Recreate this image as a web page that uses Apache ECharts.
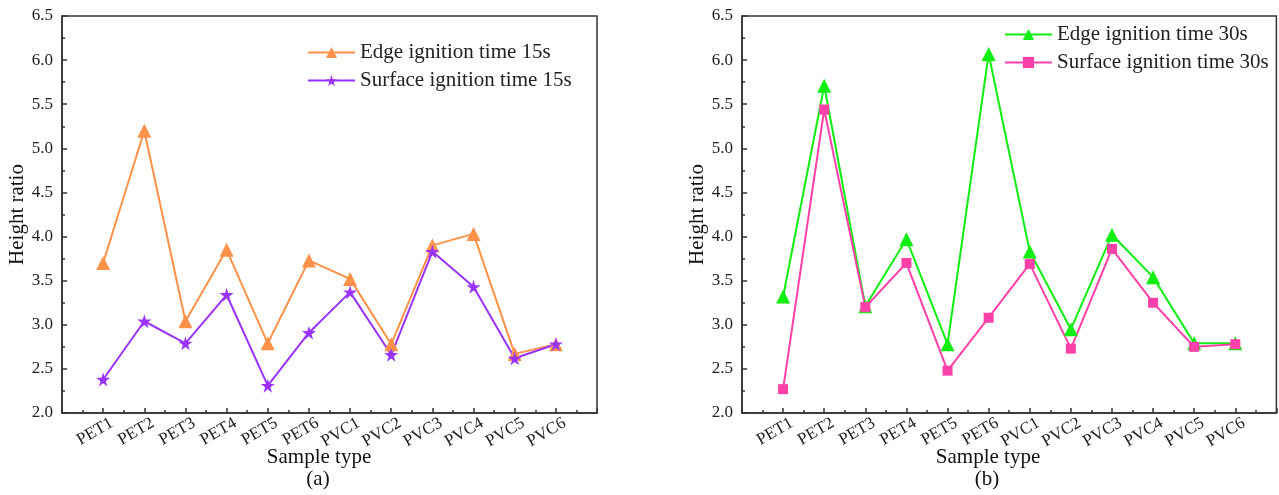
<!DOCTYPE html>
<html>
<head>
<meta charset="utf-8">
<script src="https://cdn.jsdelivr.net/npm/echarts@6/dist/echarts.min.js"></script>
<style>
  html, body { margin: 0; padding: 0; background: #fff; }
  #chart { width: 1279px; height: 495px; }
</style>
</head>
<body>
<div id="chart"></div>
<script>
const samples = ['PET1', 'PET2', 'PET3', 'PET4', 'PET5', 'PET6', 'PVC1', 'PVC2', 'PVC3', 'PVC4', 'PVC5', 'PVC6'];

const edge15 = [3.70, 5.20, 3.04, 3.85, 2.79, 3.73, 3.52, 2.78, 3.90, 4.03, 2.67, 2.78];
const surface15 = [2.38, 3.04, 2.79, 3.34, 2.31, 2.91, 3.37, 2.66, 3.83, 3.43, 2.62, 2.78];
const edge30 = [3.32, 5.71, 3.21, 3.97, 2.78, 6.07, 3.83, 2.95, 4.02, 3.54, 2.79, 2.79];
const surface30 = [2.27, 5.44, 3.20, 3.70, 2.48, 3.08, 3.69, 2.73, 3.86, 3.25, 2.75, 2.78];

const FONT = 'Liberation Serif';
const AXIS_COLOR = '#333';

const toPoints = arr => arr.map((v, i) => [i + 1, v]);

const makeX = idx => ({
  type: 'value',
  gridIndex: idx,
  min: 0,
  max: 13,
  interval: 1,
  axisLine: { show: true, lineStyle: { color: AXIS_COLOR, width: 1.5 } },
  axisTick: { show: true, inside: true, length: 5, lineStyle: { color: AXIS_COLOR, width: 1.5 } },
  minorTick: { show: true, splitNumber: 2, length: 3, lineStyle: { color: AXIS_COLOR, width: 1.5 } },
  splitLine: { show: false },
  axisLabel: {
    rotate: 30,
    margin: 14,
    padding: [0, -10, 0, 0],
    color: '#222',
    fontFamily: FONT,
    fontSize: 17,
    formatter: v => (v >= 1 && v <= samples.length ? samples[v - 1] : '')
  }
});

const makeY = idx => ({
  type: 'value',
  gridIndex: idx,
  min: 2,
  max: 6.5,
  interval: 0.5,
  name: 'Height ratio',
  nameLocation: 'middle',
  nameGap: 32,
  nameTextStyle: { fontFamily: FONT, fontSize: 21, color: '#111' },
  axisLine: { show: true, lineStyle: { color: AXIS_COLOR, width: 1.5 } },
  axisTick: { show: true, inside: true, length: 5, lineStyle: { color: AXIS_COLOR, width: 1.5 } },
  minorTick: { show: true, splitNumber: 2, length: 3, lineStyle: { color: AXIS_COLOR, width: 1.5 } },
  splitLine: { show: false },
  axisLabel: {
    margin: 9,
    color: '#222',
    fontFamily: FONT,
    fontSize: 17,
    formatter: v => v.toFixed(1)
  }
});

const makeLine = (name, data, idx, color, symbol, size) => ({
  name,
  type: 'line',
  xAxisIndex: idx,
  yAxisIndex: idx,
  data: toPoints(data),
  symbol,
  symbolSize: size,
  showAllSymbol: true,
  lineStyle: { color, width: 2 },
  itemStyle: { color },
  z: 3
});

const legendBase = {
  orient: 'vertical',
  padding: 0,
  itemWidth: 47,
  itemHeight: 14,
  itemGap: 7,
  textStyle: { fontFamily: FONT, fontSize: 21, color: '#222', lineHeight: 20 }
};

const textStyle = { fontFamily: FONT, fontSize: 21, fill: '#111' };

const option = {
  animation: false,
  backgroundColor: '#fff',
  grid: [
    { left: 62, top: 16, width: 535, height: 397, show: true, borderColor: AXIS_COLOR, borderWidth: 1.5 },
    { left: 742, top: 16, width: 535, height: 397, show: true, borderColor: AXIS_COLOR, borderWidth: 1.5 }
  ],
  xAxis: [makeX(0), makeX(1)],
  yAxis: [makeY(0), makeY(1)],
  legend: [
    Object.assign({ left: 307, top: 42, data: ['Edge ignition time 15s', 'Surface ignition time 15s'] }, legendBase),
    Object.assign({ left: 1004, top: 24, data: ['Edge ignition time 30s', 'Surface ignition time 30s'] }, legendBase)
  ],
  graphic: [
    { type: 'text', x: 319, y: 457, style: Object.assign({ text: 'Sample type', align: 'center', verticalAlign: 'middle' }, textStyle) },
    { type: 'text', x: 318, y: 479, style: Object.assign({ text: '(a)', align: 'center', verticalAlign: 'middle' }, textStyle) },
    { type: 'text', x: 988, y: 457, style: Object.assign({ text: 'Sample type', align: 'center', verticalAlign: 'middle' }, textStyle) },
    { type: 'text', x: 987, y: 479, style: Object.assign({ text: '(b)', align: 'center', verticalAlign: 'middle' }, textStyle) }
  ],
  series: [
    makeLine('Edge ignition time 15s', edge15, 0, '#FF9248', 'triangle', 14),
    makeLine('Surface ignition time 15s', surface15, 0, '#9B33FF', 'path://M50,0 L61,35 L98,35 L68,57 L79,92 L50,70 L21,92 L32,57 L2,35 L39,35 Z', 14),
    makeLine('Edge ignition time 30s', edge30, 1, '#11EE11', 'triangle', 14),
    makeLine('Surface ignition time 30s', surface30, 1, '#FF40A8', 'rect', 10)
  ]
};

const chart = echarts.init(document.getElementById('chart'));
chart.setOption(option);
</script>
</body>
</html>
